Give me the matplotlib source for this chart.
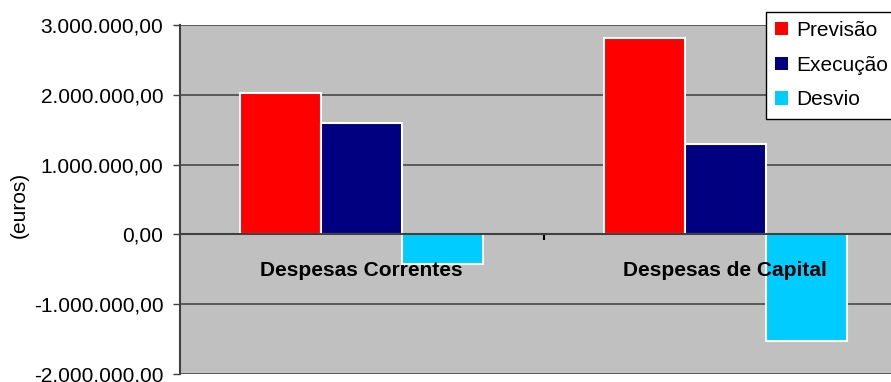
import matplotlib
matplotlib.use("Agg")
import matplotlib.pyplot as plt
import numpy as np
from matplotlib.ticker import FuncFormatter, MultipleLocator

plt.rcParams['font.family'] = ['Liberation Sans', 'DejaVu Sans']

categorias = ['Despesas Correntes', 'Despesas de Capital']
previsao = [2020000, 2820000]
execucao = [1590000, 1290000]
desvio = [-430000, -1530000]
series = ['Previsão', 'Execução', 'Desvio']
cores = ['#FF0000', '#000080', '#00CCFF']


def euros(v, pos):
    s = f"{abs(v):,.2f}".replace(',', 'X').replace('.', ',').replace('X', '.')
    return ('-' if v < 0 else '') + s


fig = plt.figure(figsize=(8.91, 3.82), dpi=100)
ax = fig.add_axes([180 / 891, 1 - 374 / 382, (907 - 180) / 891, (374 - 25) / 382])
ax.set_facecolor('#C0C0C0')

x = np.arange(len(categorias))
w = 0.223
for i, (dados, nome, cor) in enumerate(zip([previsao, execucao, desvio], series, cores)):
    ax.bar(x + (i - 1) * w, dados, w, color=cor, edgecolor='white', linewidth=1.5,
           label=nome, zorder=3)

ax.set_xlim(-0.5, 1.5)
ax.set_ylim(-2000000, 3000000)
ax.yaxis.set_major_locator(MultipleLocator(1000000))
ax.yaxis.set_major_formatter(FuncFormatter(euros))
ax.grid(axis='y', color='#484848', linewidth=1.2, zorder=1)
ax.set_axisbelow(True)

ax.spines['top'].set_visible(False)
ax.spines['right'].set_visible(False)
ax.spines['bottom'].set_position(('data', 0))
ax.spines['bottom'].set_color('#404040')
ax.spines['bottom'].set_linewidth(1.5)
ax.spines['bottom'].set_zorder(4)
ax.spines['left'].set_color('#404040')
ax.spines['left'].set_linewidth(1.5)

ax.set_xticks([0.5])
ax.set_xticklabels([''])
ax.tick_params(axis='x', direction='out', length=4, width=1.5, color='black')
ax.tick_params(axis='y', direction='out', length=5, width=1, color='#404040',
               labelsize=15, pad=7)
for xi, nome in zip(x, categorias):
    ax.annotate(nome, xy=(xi, 0), xytext=(0, -36), textcoords='offset pixels',
                ha='center', va='center', fontsize=15, fontweight='bold', zorder=5)

ax.set_ylabel('(euros)', fontsize=15)
ax.yaxis.set_label_coords(-151 / 727, 0.484)

leg = ax.legend(loc='upper left', bbox_to_anchor=(765.7 / 891, 1 - 11.7 / 382),
                bbox_transform=fig.transFigure, borderaxespad=0, fontsize=15,
                handlelength=0.6, handleheight=0.6, handletextpad=0.4,
                labelspacing=0.75, borderpad=0.45, frameon=True, fancybox=False,
                framealpha=1, edgecolor='black')
leg.get_frame().set_linewidth(1)
for h in leg.legend_handles:
    h.set_edgecolor('none')

fig.savefig('out.png', dpi=100)
